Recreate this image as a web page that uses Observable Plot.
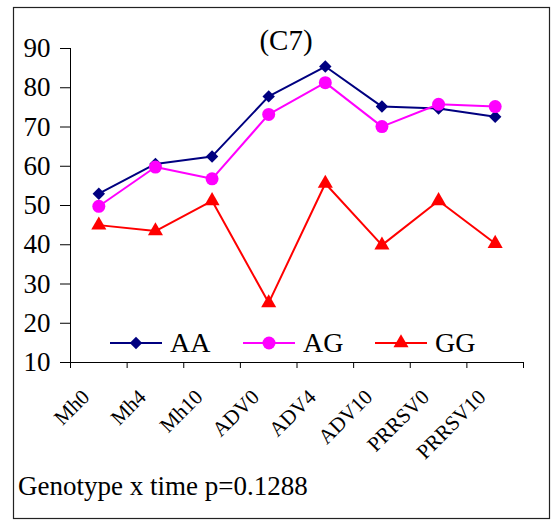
<!DOCTYPE html>
<html>
<head>
<meta charset="utf-8">
<script src="https://cdn.jsdelivr.net/npm/d3@7"></script>
<script src="https://cdn.jsdelivr.net/npm/@observablehq/plot@0.6"></script>
<style>
  html, body { margin: 0; padding: 0; background: #fff; }
  #wrap { position: relative; width: 551px; height: 520px; overflow: hidden; font-family: "Liberation Serif", "Times New Roman", serif; }
  #wrap svg { position: absolute; left: 0; top: 0; }
</style>
</head>
<body>
<div id="wrap"></div>
<script>
const categories = ["Mh0", "Mh4", "Mh10", "ADV0", "ADV4", "ADV10", "PRRSV0", "PRRSV10"];
const seriesNames = ["AA", "AG", "GG"];
const AA = [53.0, 60.6, 62.5, 77.8, 85.4, 75.2, 74.7, 72.6];
const AG = [49.8, 59.8, 56.8, 73.2, 81.3, 70.1, 75.8, 75.2];
const GG = [45.0, 43.5, 51.2, 25.2, 55.6, 39.9, 51.2, 40.3];
const yTicks = [10, 20, 30, 40, 50, 60, 70, 80, 90];
const colors = ["#000080", "#FF00FF", "#FF0000"];
const symbols = ["diamond2", "circle", "triangle"];
const radii = [5.6, 6.5, 5.6];
const titleText = "(C7)";
const captionText = "Genotype x time p=0.1288";

const values = [AA, AG, GG];
const rows = [];
seriesNames.forEach((s, k) => values[k].forEach((v, i) => rows.push({series: s, pos: i + 0.5, cat: categories[i], value: v})));

const marks = [
  Plot.axisY({ticks: yTicks, tickSize: 10, tickPadding: 10, fontSize: 27, label: null}),
  Plot.axisX({ticks: d3.range(categories.length + 1), tickFormat: () => "", tickSize: 6, label: null}),
  Plot.axisX({ticks: categories.map((c, i) => i + 0.5), tickFormat: t => categories[Math.floor(t)], tickSize: 0, tickPadding: 31, tickRotate: -45, dx: -13, fontSize: 21, label: null}),
  Plot.ruleX([0], {stroke: "#000", strokeWidth: 1}),
  Plot.ruleY([10], {stroke: "#000", strokeWidth: 1})
];
seriesNames.forEach((s, k) => {
  const d = rows.filter(r => r.series === s);
  marks.push(Plot.line(d, {x: "pos", y: "value", stroke: colors[k], strokeWidth: 2}));
  marks.push(Plot.dot(d, {x: "pos", y: "value", symbol: () => symbols[k], fill: colors[k], stroke: "none", r: radii[k]}));
});

const chart = Plot.plot({
  width: 551,
  height: 520,
  marginLeft: 70,
  marginRight: 28,
  marginTop: 48,
  marginBottom: 158,
  x: {domain: [0, categories.length], axis: null, label: null},
  y: {domain: [10, 90], axis: null, label: null},
  symbol: {type: "identity"},
  style: {fontFamily: "'Liberation Serif', 'Times New Roman', serif", fontSize: "27px", color: "#000", background: "transparent", overflow: "visible"},
  marks
});
document.getElementById("wrap").appendChild(chart);

// overlay: border, title, legend, caption
const svg = d3.select("#wrap").append("svg")
  .attr("width", 551).attr("height", 520)
  .style("pointer-events", "none")
  .style("font-family", "'Liberation Serif', 'Times New Roman', serif");

svg.append("rect").attr("x", 13.5).attr("y", 7.5).attr("width", 536).attr("height", 511)
  .attr("fill", "none").attr("stroke", "#222").attr("stroke-width", 1.2);

svg.append("text").attr("x", 286).attr("y", 50).attr("text-anchor", "middle")
  .attr("font-size", 29).text(titleText);

svg.append("text").attr("x", 18).attr("y", 495).attr("font-size", 27).text(captionText);

const legendX = [110, 243, 375];
seriesNames.forEach((s, k) => {
  const g = svg.append("g").attr("transform", `translate(${legendX[k]},343)`);
  g.append("line").attr("x1", 0).attr("x2", 52).attr("stroke", colors[k]).attr("stroke-width", 2);
  const sym = {diamond2: d3.symbolDiamond2, circle: d3.symbolCircle, triangle: d3.symbolTriangle}[symbols[k]];
  g.append("path").attr("transform", "translate(26,0)")
    .attr("d", d3.symbol(sym, Math.PI * radii[k] * radii[k])())
    .attr("fill", colors[k]);
  g.append("text").attr("x", 60).attr("y", 9).attr("font-size", 28).text(s);
});
</script>
</body>
</html>
